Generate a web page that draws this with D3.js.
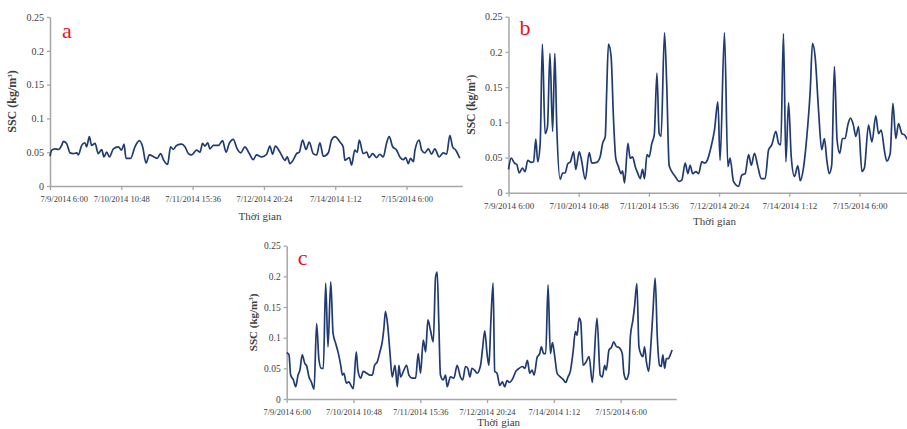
<!DOCTYPE html>
<html>
<head>
<meta charset="utf-8">
<script src="https://cdn.jsdelivr.net/npm/d3@7"></script>
<style>
  body { margin: 0; background: #fff; }
  svg { display: block; font-family: "Liberation Serif", "Times New Roman", serif; }
</style>
</head>
<body>
<svg id="chart" width="907" height="429"></svg>
<script>
// hours after 7/9/2014 6:00, SSC in kg/m3
const seriesA = [[0,0.044],[0.7,0.053],[2.0,0.055],[3.4,0.054],[4.7,0.060],[5.4,0.066],[6.7,0.063],[8.1,0.049],[9.4,0.048],[10.8,0.049],[11.4,0.046],[12.8,0.060],[14.1,0.064],[14.8,0.058],[15.9,0.073],[16.8,0.060],[18.2,0.063],[19.5,0.048],[20.9,0.054],[21.8,0.043],[22.9,0.050],[24.0,0.043],[25.6,0.055],[27.6,0.058],[28.9,0.053],[29.9,0.062],[30.7,0.041],[32.6,0.041],[34.3,0.058],[36.1,0.067],[37.4,0.058],[38.8,0.034],[40.1,0.046],[42.0,0.043],[43.3,0.041],[44.7,0.048],[45.8,0.039],[47.5,0.032],[48.7,0.058],[49.8,0.054],[51.1,0.060],[53.2,0.062],[54.5,0.058],[55.9,0.048],[57.2,0.046],[59.2,0.053],[60.6,0.050],[61.6,0.063],[62.6,0.059],[63.7,0.064],[64.6,0.055],[66.0,0.060],[68.0,0.060],[69.7,0.067],[71.1,0.050],[72.4,0.063],[74.0,0.069],[75.6,0.055],[77.0,0.049],[78.7,0.058],[80.5,0.048],[82.1,0.039],[83.4,0.046],[85.5,0.043],[87.5,0.047],[88.8,0.059],[89.9,0.047],[91.0,0.059],[92.9,0.050],[94.9,0.038],[95.8,0.043],[96.9,0.033],[98.3,0.039],[99.6,0.048],[100.7,0.050],[102.0,0.068],[103.4,0.054],[104.7,0.065],[106.3,0.048],[107.7,0.046],[109.0,0.064],[110.4,0.044],[112.4,0.049],[113.7,0.068],[115.1,0.073],[117.1,0.065],[118.4,0.058],[119.1,0.038],[120.9,0.042],[121.8,0.031],[123.1,0.053],[124.1,0.050],[124.9,0.068],[126.5,0.048],[127.9,0.050],[128.9,0.042],[130.3,0.048],[131.9,0.042],[133.2,0.047],[134.6,0.043],[135.9,0.063],[137.0,0.073],[138.4,0.058],[140.0,0.053],[141.3,0.043],[142.7,0.039],[143.7,0.042],[144.7,0.033],[145.6,0.041],[146.8,0.036],[147.4,0.053],[149.1,0.068],[150.1,0.053],[151.4,0.049],[152.8,0.055],[154.1,0.047],[155.4,0.055],[157.2,0.043],[158.8,0.049],[160.2,0.047],[161.5,0.075],[162.6,0.058],[163.9,0.053],[165.5,0.041]];

const seriesB = [[0,0.033],[1.1,0.049],[2.5,0.042],[3.4,0.040],[4.4,0.028],[5.7,0.035],[6.8,0.030],[7.9,0.046],[9.3,0.043],[10.3,0.044],[11.2,0.076],[12.0,0.044],[13.0,0.070],[13.9,0.211],[15.0,0.084],[16.0,0.094],[17.0,0.198],[18.1,0.087],[19.0,0.198],[19.8,0.094],[21.2,0.019],[22.2,0.028],[23.2,0.028],[24.3,0.041],[25.4,0.044],[26.7,0.058],[27.6,0.033],[29.0,0.058],[29.8,0.049],[31.5,0.019],[33.1,0.057],[34.2,0.042],[36.2,0.043],[37.6,0.051],[38.6,0.070],[39.7,0.080],[40.3,0.146],[41.0,0.211],[42.1,0.193],[43.1,0.103],[44.0,0.049],[45.1,0.037],[46.2,0.027],[46.8,0.031],[47.6,0.014],[49.0,0.070],[49.9,0.049],[50.9,0.051],[52.0,0.037],[53.1,0.027],[54.0,0.020],[55.0,0.033],[55.8,0.020],[56.8,0.054],[57.7,0.051],[58.8,0.070],[59.8,0.082],[60.9,0.170],[61.8,0.084],[62.6,0.080],[64.0,0.227],[64.9,0.155],[65.9,0.039],[67.0,0.030],[68.4,0.023],[70.0,0.016],[71.1,0.018],[72.5,0.042],[73.6,0.027],[74.5,0.039],[75.6,0.027],[76.9,0.030],[78.0,0.027],[79.3,0.044],[80.4,0.042],[81.4,0.045],[83.1,0.065],[84.5,0.089],[85.9,0.129],[86.8,0.046],[88.6,0.227],[90.0,0.037],[90.9,0.049],[92.3,0.016],[94.4,0.009],[95.7,0.025],[97.1,0.027],[98.5,0.054],[99.6,0.039],[100.9,0.056],[102.3,0.037],[103.7,0.020],[105.3,0.020],[106.7,0.061],[108.0,0.068],[109.7,0.087],[110.8,0.070],[111.7,0.068],[112.8,0.226],[113.8,0.044],[114.9,0.128],[116.0,0.051],[117.3,0.023],[118.7,0.038],[119.7,0.017],[121.0,0.035],[122.4,0.080],[123.8,0.146],[124.7,0.212],[125.8,0.193],[127.2,0.117],[128.5,0.061],[129.6,0.077],[130.6,0.046],[131.6,0.027],[132.6,0.039],[133.7,0.179],[134.8,0.075],[135.9,0.056],[137.0,0.077],[138.1,0.077],[139.2,0.096],[140.3,0.106],[141.5,0.096],[142.5,0.080],[143.6,0.094],[145.0,0.030],[146.0,0.035],[147.7,0.096],[149.1,0.072],[150.7,0.109],[151.8,0.084],[152.9,0.089],[154.3,0.058],[155.2,0.045],[156.6,0.056],[157.7,0.127],[158.9,0.077],[160.0,0.098],[161.4,0.084],[162.5,0.082],[163.4,0.077],[165.0,0.072]];

const seriesC = [[0,0.076],[1.0,0.072],[1.7,0.039],[2.9,0.031],[3.9,0.020],[4.9,0.039],[5.7,0.047],[6.7,0.072],[7.8,0.058],[8.6,0.054],[9.6,0.036],[10.6,0.028],[11.8,0.016],[12.9,0.123],[13.9,0.064],[14.9,0.050],[15.8,0.050],[16.8,0.189],[17.8,0.085],[19.0,0.191],[20.0,0.107],[21.1,0.091],[22.3,0.074],[23.3,0.055],[24.0,0.039],[24.7,0.042],[25.7,0.026],[26.8,0.028],[27.6,0.023],[28.7,0.017],[30.0,0.077],[30.7,0.047],[31.9,0.034],[33.0,0.045],[34.5,0.042],[35.9,0.039],[36.9,0.039],[37.9,0.055],[39.1,0.061],[40.2,0.077],[41.2,0.093],[41.9,0.115],[42.6,0.143],[43.6,0.118],[44.5,0.077],[45.5,0.036],[46.7,0.055],[47.7,0.020],[48.4,0.055],[49.1,0.036],[50.3,0.045],[51.7,0.055],[52.7,0.039],[54.1,0.034],[55.6,0.034],[56.7,0.074],[57.7,0.042],[58.9,0.096],[59.9,0.077],[60.9,0.129],[62.0,0.112],[63.2,0.093],[64.2,0.199],[64.9,0.207],[65.6,0.123],[66.3,0.039],[67.5,0.031],[68.5,0.039],[69.2,0.020],[70.6,0.036],[72.1,0.034],[73.5,0.055],[74.9,0.036],[75.9,0.031],[77.1,0.053],[78.1,0.050],[79.0,0.036],[79.9,0.050],[81.0,0.047],[82.1,0.042],[83.6,0.055],[84.4,0.080],[85.4,0.111],[86.4,0.074],[87.2,0.055],[88.0,0.123],[89.0,0.189],[89.7,0.045],[90.7,0.042],[91.9,0.022],[93.0,0.028],[94.0,0.020],[95.0,0.030],[96.2,0.027],[97.3,0.032],[98.8,0.045],[100.2,0.050],[101.7,0.053],[102.7,0.050],[103.8,0.063],[104.8,0.042],[105.8,0.047],[106.7,0.039],[108.0,0.068],[109.1,0.074],[109.8,0.085],[110.8,0.074],[111.7,0.074],[112.7,0.186],[113.7,0.074],[114.6,0.092],[115.6,0.069],[116.6,0.042],[118.0,0.036],[119.2,0.032],[120.3,0.027],[121.3,0.036],[122.3,0.045],[123.5,0.077],[124.5,0.110],[125.2,0.104],[126.1,0.132],[126.8,0.126],[127.8,0.055],[128.9,0.059],[130.4,0.069],[131.8,0.027],[133.8,0.132],[135.2,0.039],[136.1,0.036],[137.1,0.055],[137.8,0.047],[139.0,0.080],[140.0,0.084],[141.0,0.093],[142.1,0.086],[143.6,0.083],[144.7,0.074],[145.4,0.042],[146.4,0.032],[147.5,0.042],[148.2,0.102],[149.3,0.129],[150.0,0.151],[151.0,0.188],[151.9,0.085],[152.9,0.072],[153.6,0.069],[154.3,0.085],[155.1,0.061],[156.1,0.045],[156.9,0.080],[157.9,0.140],[158.9,0.197],[159.8,0.102],[160.8,0.055],[161.5,0.053],[162.2,0.072],[163.0,0.050],[163.7,0.066],[164.6,0.066],[165.4,0.072],[166.2,0.080]];

const xTickLabels = ["7/9/2014 6:00", "7/10/2014 10:48", "7/11/2014 15:36", "7/12/2014 20:24", "7/14/2014 1:12", "7/15/2014 6:00"];
const tickStepHours = 28.8;
const yTicks = [0, 0.05, 0.1, 0.15, 0.2, 0.25];
const startTime = new Date(2014, 6, 9, 6, 0);
const xTitle = "Thời gian";
const panelLetters = ["a", "b", "c"];

const hoursToDate = (h) => new Date(startTime.getTime() + h * 3600 * 1000);

class SscChart {
    constructor(_config, _data) {
        this.config = _config;
        this.data = _data;
        this.initVis();
    }

    initVis() {
        let vis = this;
        const c = vis.config;

        vis.width = c.pxPerHour * c.endHours;
        vis.height = c.bottom - c.top;

        vis.g = d3.select("#chart").append("g")
            .attr("transform", `translate(${c.left},${c.top})`);

        vis.xScale = d3.scaleTime()
            .domain([startTime, hoursToDate(c.endHours)])
            .range([0, vis.width]);

        vis.yScale = d3.scaleLinear()
            .domain([0, 0.25])
            .range([vis.height, 0]);

        vis.renderVis();
    }

    renderVis() {
        let vis = this;
        const c = vis.config;

        // y axis
        const yAxis = d3.axisLeft(vis.yScale)
            .tickValues(yTicks)
            .tickSize(3)
            .tickSizeOuter(0)
            .tickPadding(3)
            .tickFormat((d) => (d === 0 ? "0" : String(+d.toFixed(2))));

        const yG = vis.g.append("g").call(yAxis);

        // x axis
        const xTickDates = xTickLabels.map((_, i) => hoursToDate(i * tickStepHours));
        const xAxis = d3.axisBottom(vis.xScale)
            .tickValues(xTickDates)
            .tickSize(4)
            .tickSizeOuter(0)
            .tickPadding(6)
            .tickFormat((d, i) => xTickLabels[i]);

        const xG = vis.g.append("g")
            .attr("transform", `translate(0,${vis.height})`)
            .call(xAxis);

        [xG, yG].forEach((ax) => {
            ax.select(".domain").attr("stroke", "#a6a6a6").attr("stroke-width", 1.5);
            ax.selectAll(".tick line").attr("stroke", "#a6a6a6").attr("stroke-width", 1.3);
            ax.selectAll("text")
                .attr("fill", "#404040")
                .style("font-family", "'Liberation Serif', serif");
        });
        yG.selectAll("text").style("font-size", c.yTickFont + "px");
        xG.selectAll("text").style("font-size", c.tickFont + "px");

        if (c.firstLabelShift) {
            xG.selectAll(".tick text").filter((d, i) => i === 0)
                .attr("text-anchor", "start")
                .attr("x", c.firstLabelShift);
        }

        // line
        const line = d3.line()
            .x((d) => vis.xScale(hoursToDate(d[0])))
            .y((d) => vis.yScale(d[1]))
            .curve(d3.curveMonotoneX);

        vis.g.append("path")
            .datum(vis.data)
            .attr("fill", "none")
            .attr("stroke", "#203a72")
            .attr("stroke-width", 1.7)
            .attr("stroke-linejoin", "round")
            .attr("d", line);

        // axis titles
        vis.g.append("text")
            .attr("x", c.xTitleX)
            .attr("y", vis.height + c.xTitleDy)
            .attr("text-anchor", "middle")
            .attr("fill", "#404040")
            .style("font-size", c.titleFont + "px")
            .text(xTitle);

        const yt = vis.g.append("text")
            .attr("transform", `translate(${c.yTitleDx},${vis.height / 2}) rotate(-90)`)
            .attr("text-anchor", "middle")
            .attr("fill", "#404040")
            .style("font-size", c.yTitleFont + "px")
            .style("font-weight", "bold");
        yt.append("tspan").text("SSC (kg/m");
        yt.append("tspan").attr("dy", -4).style("font-size", "7px").text("3");
        yt.append("tspan").attr("dy", 4).text(")");

        // panel letter
        vis.g.append("text")
            .attr("x", c.letterDx)
            .attr("y", c.letterDy)
            .attr("fill", "#e8141c")
            .style("font-size", "22px")
            .text(c.letter);
    }
}

const panels = [
    { data: seriesA, left: 50, top: 17, bottom: 186, pxPerHour: 2.476, endHours: 166.5,
      tickFont: 8.5, yTickFont: 10, titleFont: 11, yTitleFont: 12, xTitleX: 210, xTitleDy: 34, yTitleDx: -34,
      letterDx: 12, letterDy: 21, letter: panelLetters[0], firstLabelShift: -10 },
    { data: seriesB, left: 508.5, top: 16.7, bottom: 192.7, pxPerHour: 2.4375, endHours: 168,
      tickFont: 9, yTickFont: 10, titleFont: 11, yTitleFont: 11.5, xTitleX: 206, xTitleDy: 32, yTitleDx: -34,
      letterDx: 11, letterDy: 18, letter: panelLetters[1], firstLabelShift: 0 },
    { data: seriesC, left: 286.7, top: 245.7, bottom: 399, pxPerHour: 2.319, endHours: 168,
      tickFont: 8.5, yTickFont: 9.5, titleFont: 11, yTitleFont: 11, xTitleX: 212, xTitleDy: 27, yTitleDx: -30,
      letterDx: 11, letterDy: 19, letter: panelLetters[2], firstLabelShift: 0 }
];

panels.forEach((p) => new SscChart(p, p.data));
</script>
</body>
</html>
